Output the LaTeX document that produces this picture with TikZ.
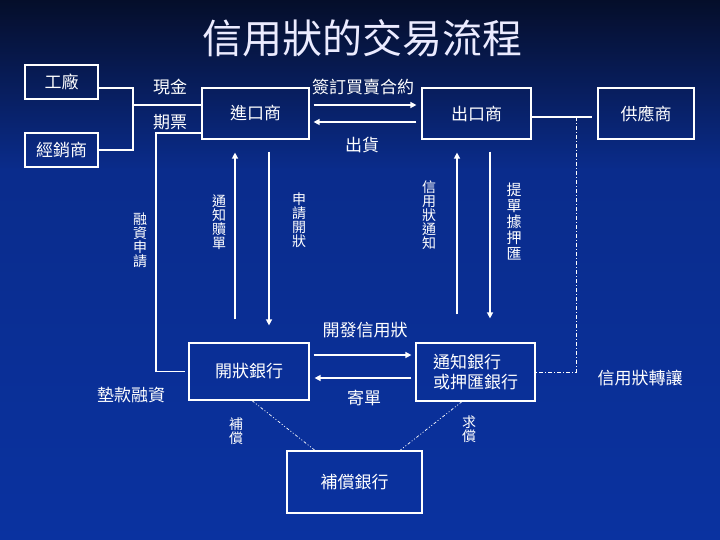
\documentclass[tikz,border=0pt]{standalone}
\usepackage{fontspec}
\setmainfont{Noto Sans CJK TC}
\usetikzlibrary{arrows.meta}
\definecolor{bgtop}{RGB}{5,14,42}
\definecolor{bgmid}{RGB}{10,44,140}
\definecolor{bgbot}{RGB}{10,50,160}
\tikzset{
  box/.style={draw=white, line width=1.2pt, text=white, inner sep=0pt, font=\fontsize{17pt}{20pt}\selectfont},
  lbl/.style={text=white, inner sep=0pt, font=\fontsize{17pt}{20pt}\selectfont},
  vlbl/.style={text=white, inner sep=0pt, align=center, font=\fontsize{14pt}{14pt}\selectfont},
  wire/.style={draw=white, line width=1.2pt},
  arr/.style={draw=white, line width=1.4pt, -{Triangle[length=6pt,width=6pt]}},
  dashdot/.style={draw=white, line width=0.8pt, dash pattern=on 4pt off 2pt on 1pt off 2pt},
  dotdash/.style={draw=white, line width=0.7pt, dash pattern=on 3pt off 2pt on 1pt off 2pt on 1pt off 2pt}
}
\begin{document}
\begin{tikzpicture}[x=1pt,y=-1pt]
\useasboundingbox (0,0) rectangle (720,540);
\shade[top color=bgtop, bottom color=bgmid] (0,0) rectangle (720,170.5);
\shade[top color=bgmid, bottom color=bgbot] (0,170) rectangle (720,540);
% title
\node[text=white!92!blue, inner sep=0pt, font=\fontsize{40pt}{44pt}\selectfont] (title) at (362,38) {信用狀的交易流程};
% boxes
\node[box, minimum width=73pt, minimum height=34pt] (F) at (61.5,82) {工廠};
\node[box, minimum width=73pt, minimum height=34pt] (D) at (61.5,150) {經銷商};
\node[box, minimum width=107pt, minimum height=51pt] (I) at (255.5,113.5) {進口商};
\node[box, minimum width=109pt, minimum height=51pt] (E) at (476.5,113.5) {出口商};
\node[box, minimum width=96pt, minimum height=51pt] (S) at (646,113.5) {供應商};
\node[box, minimum width=120pt, minimum height=57pt] (IB) at (249,371.5) {開狀銀行};
\node[box, minimum width=119pt, minimum height=58pt, align=left] (AB) at (475.5,372) {通知銀行\\或押匯銀行};
\node[box, minimum width=135pt, minimum height=62pt] (RB) at (354.5,482) {補償銀行};
% labels
\node[lbl] (cash) at (170,87) {現金};
\node[lbl] (note) at (170,122) {期票};
\node[lbl] (sign) at (363,87) {簽訂買賣合約};
\node[lbl] (ship) at (362,145) {出貨};
\node[lbl] (issue) at (365,330) {開發信用狀};
\node[lbl] (send) at (364,398) {寄單};
\node[lbl] (adv) at (131,395) {墊款融資};
\node[lbl] (trans) at (640,378) {信用狀轉讓};
\node[vlbl] (fin) at (140,240) {融\\資\\申\\請};
\node[vlbl] (redeem) at (219,222) {通\\知\\贖\\單};
\node[vlbl] (apply) at (299,220) {申\\請\\開\\狀};
\node[vlbl] (notify) at (429,215) {信\\用\\狀\\通\\知};
\node[vlbl, font=\fontsize{15pt}{16pt}\selectfont] (nego) at (514,222) {提\\單\\據\\押\\匯};
\node[vlbl] (reimb) at (236,431) {補\\償};
\node[vlbl] (claim) at (469,429) {求\\償};
% connectors
\coordinate (M) at (133,105);
\coordinate (L) at (156,0);
\coordinate (T) at (576,117);
\draw[wire] ([yshift=-6pt]F.east) -| (M) |- (D.east);
\draw[wire] (M) -- (I.west |- M);
\draw[wire] ([yshift=-19.5pt]I.west) -| (L |- IB.west) -- ([xshift=-3pt]IB.west);
\draw[arr] ([xshift=4pt,yshift=8.5pt]I.east) -- ([xshift=-5pt,yshift=8.5pt]E.west);
\draw[arr] ([xshift=-5pt,yshift=-8.5pt]E.west) -- ([xshift=4pt,yshift=-8.5pt]I.east);
\draw[wire] ([yshift=-3.5pt]E.east) -- ([xshift=-5pt,yshift=-3.5pt]S.west);
\draw[dashdot] (T) |- (AB.east);
\draw[arr, shorten <=23pt, shorten >=13pt] ([xshift=-14pt]IB.north) -- ([xshift=-20.5pt]I.south);
\draw[arr, shorten <=12pt, shorten >=17pt] ([xshift=13.5pt]I.south) -- ([xshift=20pt]IB.north);
\draw[arr, shorten <=28pt, shorten >=13pt] ([xshift=-18.5pt]AB.north) -- ([xshift=-19.5pt]E.south);
\draw[arr, shorten <=12pt, shorten >=24pt] ([xshift=13.5pt]E.south) -- ([xshift=14.5pt]AB.north);
\draw[arr] ([xshift=4pt,yshift=16.5pt]IB.east) -- ([xshift=-4pt,yshift=17pt]AB.west);
\draw[arr] ([xshift=-4pt,yshift=-6pt]AB.west) -- ([xshift=5pt,yshift=-6.5pt]IB.east);
\draw[dotdash] ([xshift=3pt]IB.south) -- ([xshift=-39.5pt]RB.north);
\draw[dotdash] ([xshift=-13.5pt]AB.south) -- ([xshift=45.5pt]RB.north);
\end{tikzpicture}
\end{document}
